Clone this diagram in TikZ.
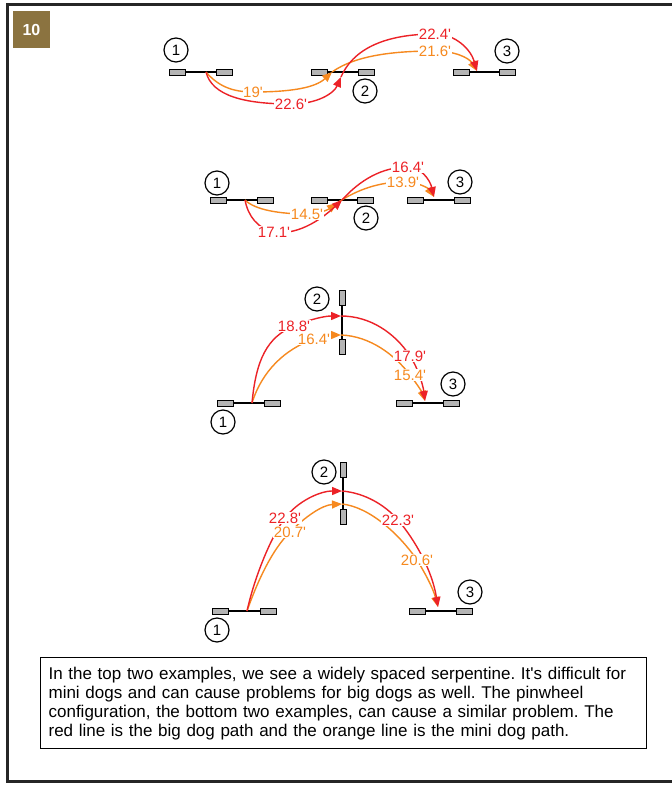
\documentclass[tikz,border=0pt]{standalone}
\usepackage{fontspec}
\setmainfont{Liberation Sans}[Ligatures=TeXOff]
\usetikzlibrary{arrows.meta}
\definecolor{rd}{HTML}{EC2227}
\definecolor{og}{HTML}{F6891F}
\definecolor{badgec}{HTML}{8B7340}
\definecolor{wingfill}{HTML}{B4B4B4}
\begin{document}
\frenchspacing
\begin{tikzpicture}[x=1pt,y=-1pt,
  wing/.style={draw, fill=wingfill, line width=1pt, minimum width=16pt, minimum height=6pt, inner sep=0pt, outer sep=0pt},
  vwing/.style={wing, minimum width=6pt, minimum height=15pt},
  bar/.style={line width=1.3pt},
  num/.style={circle, draw, line width=1.2pt, minimum size=24pt, inner sep=0pt, font=\fontsize{15}{15}\selectfont},
  rpath/.style={rd, line width=1.4pt, -{Triangle[length=10pt,width=8pt]}},
  opath/.style={og, line width=1.4pt, -{Triangle[length=10pt,width=8pt]}},
  rlab/.style={text=rd, fill=white, inner sep=0.5pt, font=\fontsize{15}{15}\selectfont},
  olab/.style={rlab, text=og}
]
\useasboundingbox (0,0) rectangle (672,785);
\fill[white] (0,0) rectangle (672,785);
% frame
\draw[line width=3pt, black!85] (7.5,4.5) rectangle (700,781.5);
\node[fill=badgec, minimum width=37pt, minimum height=37pt, inner sep=0pt, text=white, font=\bfseries\fontsize{16}{16}\selectfont] (badge) at (31.5,29.5) {10};

% ===== Example 1 =====
\node[wing] (e1a1) at (177,72) {}; \node[wing] (e1b1) at (224,72) {};
\node[wing] (e1a2) at (319.5,72) {}; \node[wing] (e1b2) at (366.5,72) {};
\node[wing] (e1a3) at (461,72) {}; \node[wing] (e1b3) at (507,72) {};
\draw[bar] (e1a1) -- (e1b1); \draw[bar] (e1a2) -- (e1b2); \draw[bar] (e1a3) -- (e1b3);
\node[num] (e1n1) at (176,50) {1};
\node[num] (e1n2) at (365,91) {2};
\node[num] (e1n3) at (507,51) {3};
\coordinate (e1t1) at (206,72);
\coordinate (e1o2) at (332,72);
\coordinate (e1r2) at (341,77);
\coordinate (e1t3) at (477,71);
\coordinate (e1pa) at (253,92);
\coordinate (e1pb) at (291,104);
\coordinate (e1pc) at (435,34);
\coordinate (e1pd) at (435,51);
\draw[opath] (e1t1) .. controls (218,86) and (232,92) .. (e1pa) .. controls (290,92) and (315,88) .. (e1o2);
\draw[opath] (e1o2) .. controls (356,55) and (395,51) .. (e1pd) .. controls (455,51) and (469,58) .. (e1t3);
\draw[rpath] (e1t1) .. controls (212,96) and (245,104) .. (e1pb) .. controls (318,104) and (334,93) .. (e1r2);
\draw[rpath] (e1r2) .. controls (355,45) and (392,34) .. (e1pc) .. controls (456,34) and (471,50) .. (e1t3);
\node[olab] (e1la) at (e1pa) {19'};
\node[rlab] (e1lb) at (e1pb) {22.6'};
\node[rlab] (e1lc) at (e1pc) {22.4'};
\node[olab] (e1ld) at (e1pd) {21.6'};

% ===== Example 2 =====
\node[wing] (e2a1) at (218,200) {}; \node[wing] (e2b1) at (265.5,200) {};
\node[wing] (e2a2) at (319.5,200) {}; \node[wing] (e2b2) at (365.5,200) {};
\node[wing] (e2a3) at (415,200) {}; \node[wing] (e2b3) at (462.5,200) {};
\draw[bar] (e2a1) -- (e2b1); \draw[bar] (e2a2) -- (e2b2); \draw[bar] (e2a3) -- (e2b3);
\node[num] (e2n1) at (217,183) {1};
\node[num] (e2n2) at (366,218) {2};
\node[num] (e2n3) at (460,182) {3};
\coordinate (e2t1) at (245,200);
\coordinate (e2r2) at (342,200);
\coordinate (e2o2) at (337,203);
\coordinate (e2t3) at (434,197);
\coordinate (e2pa) at (307,214);
\coordinate (e2pb) at (274,232);
\coordinate (e2pc) at (408,167);
\coordinate (e2pd) at (403,182);
\draw[opath] (e2t1) .. controls (255,210) and (280,214) .. (e2pa) .. controls (320,214) and (329,209) .. (e2o2);
\draw[opath] (e2o2) .. controls (358,189) and (380,182) .. (e2pd) .. controls (418,182) and (428,188) .. (e2t3);
\draw[rpath] (e2t1) .. controls (248,216) and (258,229) .. (e2pb) .. controls (300,236) and (325,216) .. (e2r2);
\draw[rpath] (e2r2) .. controls (360,180) and (382,167) .. (e2pc) .. controls (421,167) and (430,180) .. (e2t3);
\node[olab] (e2la) at (e2pa) {14.5'};
\node[rlab] (e2lb) at (e2pb) {17.1'};
\node[rlab] (e2lc) at (e2pc) {16.4'};
\node[olab] (e2ld) at (e2pd) {13.9'};

% ===== Example 3 =====
\node[wing] (e3a1) at (225,403) {}; \node[wing] (e3b1) at (272.5,403) {};
\node[vwing] (e3a2) at (342,298) {}; \node[vwing] (e3b2) at (342,346.5) {};
\node[wing] (e3a3) at (404,403) {}; \node[wing] (e3b3) at (451,403) {};
\draw[bar] (e3a1) -- (e3b1); \draw[bar] (e3a2) -- (e3b2); \draw[bar] (e3a3) -- (e3b3);
\node[num] (e3n1) at (223,422) {1};
\node[num] (e3n2) at (317,299) {2};
\node[num] (e3n3) at (453,384) {3};
\coordinate (e3t1) at (252,403);
\coordinate (e3r2) at (341,316);
\coordinate (e3o2) at (341,335);
\coordinate (e3t3) at (425,401);
\coordinate (e3pa) at (294,326);
\coordinate (e3pb) at (314,339);
\coordinate (e3pc) at (410,356);
\coordinate (e3pd) at (410,375);
\draw[opath] (e3t1) .. controls (262,371) and (285,349) .. (e3pb) .. controls (323,336) and (332,335) .. (e3o2);
\draw[opath] (e3o2) .. controls (370,336) and (395,355) .. (e3pd) .. controls (417,384) and (422,392) .. (e3t3);
\draw[rpath] (e3t1) .. controls (256,360) and (267,337) .. (e3pa) .. controls (311,319) and (325,316) .. (e3r2);
\draw[rpath] (e3r2) .. controls (370,316) and (395,333) .. (e3pc) .. controls (418,368) and (423,385) .. (e3t3);
\node[rlab] (e3la) at (e3pa) {18.8'};
\node[olab] (e3lb) at (e3pb) {16.4'};
\node[rlab] (e3lc) at (e3pc) {17.9'};
\node[olab] (e3ld) at (e3pd) {15.4'};

% ===== Example 4 =====
\node[wing] (e4a1) at (220.5,611) {}; \node[wing] (e4b1) at (268.5,611) {};
\node[vwing] (e4a2) at (343,470) {}; \node[vwing] (e4b2) at (343,517) {};
\node[wing] (e4a3) at (417,611) {}; \node[wing] (e4b3) at (464.5,611) {};
\draw[bar] (e4a1) -- (e4b1); \draw[bar] (e4a2) -- (e4b2); \draw[bar] (e4a3) -- (e4b3);
\node[num] (e4n1) at (217,630) {1};
\node[num] (e4n2) at (324,472) {2};
\node[num] (e4n3) at (470,592) {3};
\coordinate (e4t1) at (247,611);
\coordinate (e4r2) at (342,491);
\coordinate (e4o2) at (342,504);
\coordinate (e4t3) at (438,607);
\coordinate (e4pa) at (285,518);
\coordinate (e4pb) at (290,532);
\coordinate (e4pc) at (398,520);
\coordinate (e4pd) at (417,560);
\draw[opath] (e4t1) .. controls (258,580) and (272,550) .. (e4pb) .. controls (305,517) and (322,505) .. (e4o2);
\draw[opath] (e4o2) .. controls (370,507) and (400,535) .. (e4pd) .. controls (425,573) and (433,588) .. (e4t3);
\draw[rpath] (e4t1) .. controls (255,575) and (272,535) .. (e4pa) .. controls (298,501) and (320,491) .. (e4r2);
\draw[rpath] (e4r2) .. controls (365,493) and (385,505) .. (e4pc) .. controls (415,540) and (432,570) .. (e4t3);
\node[rlab] (e4la) at (e4pa) {22.8'};
\node[olab] (e4lb) at (e4pb) {20.7'};
\node[rlab] (e4lc) at (e4pc) {22.3'};
\node[olab] (e4ld) at (e4pd) {20.6'};

% ===== description =====
\node[draw, line width=1.2pt, anchor=north west, text width=590pt, inner xsep=8pt, inner ysep=0pt, minimum height=91pt, align=left, font=\fontsize{17}{19}\selectfont] (desc) at (40,657)
{In the top two examples, we see a widely spaced serpentine. It's difficult for\\
mini dogs and can cause problems for big dogs as well. The pinwheel\\
configuration, the bottom two examples, can cause a similar problem. The\\
red line is the big dog path and the orange line is the mini dog path.};
\end{tikzpicture}
\end{document}
